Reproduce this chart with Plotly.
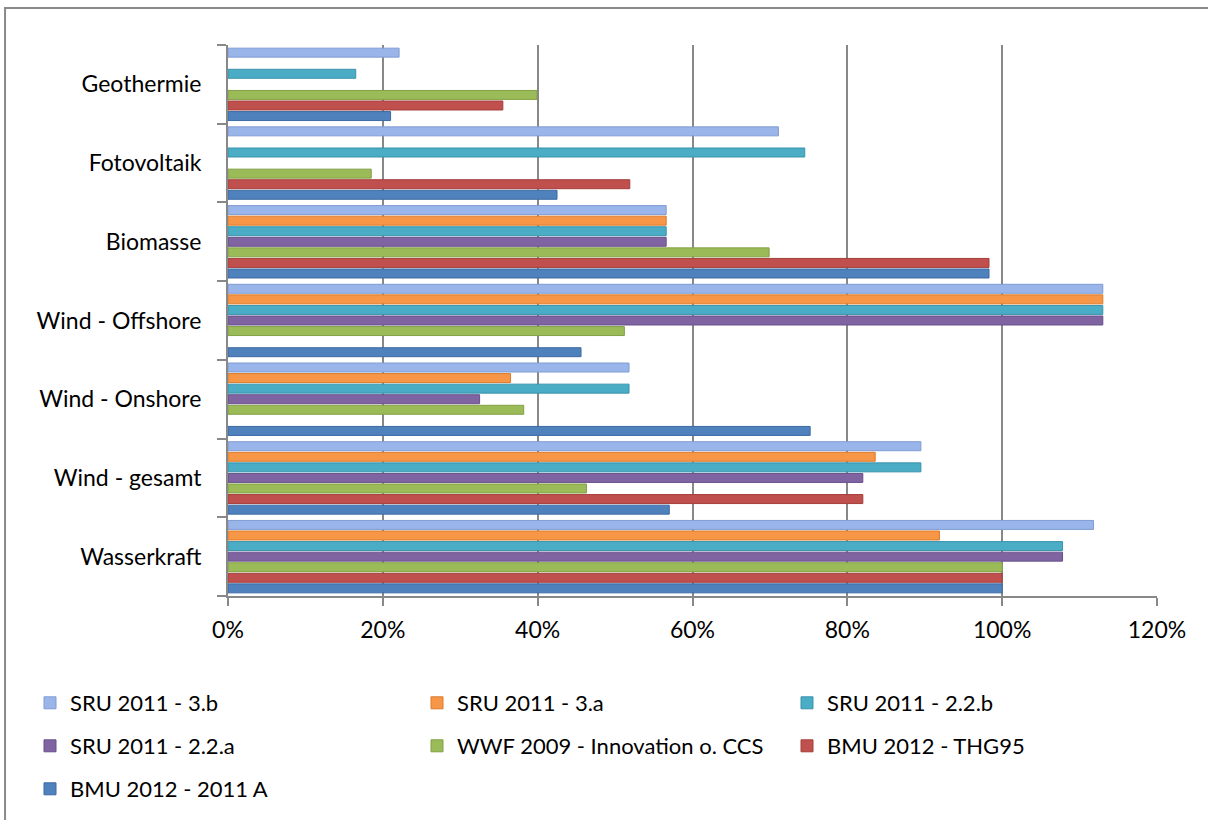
import plotly.graph_objects as go

categories = ["Wasserkraft", "Wind - gesamt", "Wind - Onshore", "Wind - Offshore",
              "Biomasse", "Fotovoltaik", "Geothermie"]

series_names = ["BMU 2012 - 2011 A", "BMU 2012 - THG95", "WWF 2009 - Innovation o. CCS",
                "SRU 2011 - 2.2.a", "SRU 2011 - 2.2.b", "SRU 2011 - 3.a", "SRU 2011 - 3.b"]

bmu_2011a = [1.00, 0.570, 0.752, 0.456, 0.983, 0.425, 0.210]
bmu_thg95 = [1.00, 0.820, None, None, 0.983, 0.519, 0.355]
wwf_2009 = [1.00, 0.463, 0.382, 0.512, 0.699, 0.185, 0.399]
sru_22a = [1.078, 0.820, 0.325, 1.130, 0.566, None, None]
sru_22b = [1.078, 0.895, 0.518, 1.130, 0.566, 0.745, 0.165]
sru_3a = [0.919, 0.836, 0.365, 1.130, 0.566, None, None]
sru_3b = [1.118, 0.895, 0.518, 1.130, 0.566, 0.711, 0.221]

series_values = [bmu_2011a, bmu_thg95, wwf_2009, sru_22a, sru_22b, sru_3a, sru_3b]
colors = ["#4F81BD", "#C0504D", "#9BBB59", "#8064A2", "#4BACC6", "#F79646", "#9AB5EA"]
edges = ["#3C6AA3", "#A43E3B", "#82A044", "#67508A", "#3993AC", "#DB7B2D", "#7F9CD3"]

x_ticks = [0, 0.2, 0.4, 0.6, 0.8, 1.0, 1.2]
x_tick_labels = ["0%", "20%", "40%", "60%", "80%", "100%", "120%"]

FONT = "Lato, 'Liberation Sans', Arial, sans-serif"

# legend slot (left px, centre y px) for each series, in container pixels
legend_slots = [(30, 789), (787, 746), (417, 746), (30, 746), (787, 703), (417, 703), (30, 703)]
legend_ids = ["legend" if i == 0 else f"legend{i + 1}" for i in range(7)]

fig = go.Figure()
for name, vals, col, edge, lg in zip(series_names, series_values, colors, edges, legend_ids):
    fig.add_trace(go.Bar(
        y=categories, x=vals, name=name, orientation="h",
        marker=dict(color=col, line=dict(color=edge, width=1)),
        legend=lg, showlegend=True,
    ))

legends = {}
for lg, (lx, ly) in zip(legend_ids, legend_slots):
    legends[lg] = dict(
        orientation="h", xref="container", yref="container",
        x=lx / 1208, y=1 - ly / 820, xanchor="left", yanchor="middle",
        font=dict(family=FONT, size=22, color="#000000"),
        bgcolor="rgba(0,0,0,0)",
    )

fig.update_layout(
    width=1208, height=820, showlegend=True,
    paper_bgcolor="white", plot_bgcolor="white",
    margin=dict(l=228, r=51, t=45, b=224, autoexpand=False),
    barmode="group", bargap=0.06, bargroupgap=0.15,
    font=dict(family=FONT, size=23, color="#000000"),
    xaxis=dict(
        range=[0, 1.2], tickvals=x_ticks, ticktext=x_tick_labels,
        showgrid=True, gridcolor="#888888", gridwidth=2,
        showline=True, linecolor="#888888", linewidth=2,
        ticks="outside", ticklen=8, tickcolor="#888888", tickwidth=2,
        ticklabelstandoff=4, zeroline=False,
        tickfont=dict(family=FONT, size=23, color="#000000"),
    ),
    yaxis=dict(
        categoryorder="array", categoryarray=categories,
        showline=True, linecolor="#888888", linewidth=2,
        ticks="outside", ticklen=9, tickcolor="#888888", tickwidth=2,
        tickson="boundaries", ticklabelstandoff=20,
        showgrid=False, zeroline=False,
        tickfont=dict(family=FONT, size=23, color="#000000"),
    ),
    shapes=[dict(type="rect", xref="paper", yref="paper",
                 x0=-0.24, x1=1.3, y0=-1.0, y1=1.067,
                 line=dict(color="#898989", width=2), fillcolor="rgba(0,0,0,0)", layer="below")],
    **legends,
)

fig.write_html("out.html", config={"displayModeBar": False},
               post_script="document.body.style.margin='0';")
